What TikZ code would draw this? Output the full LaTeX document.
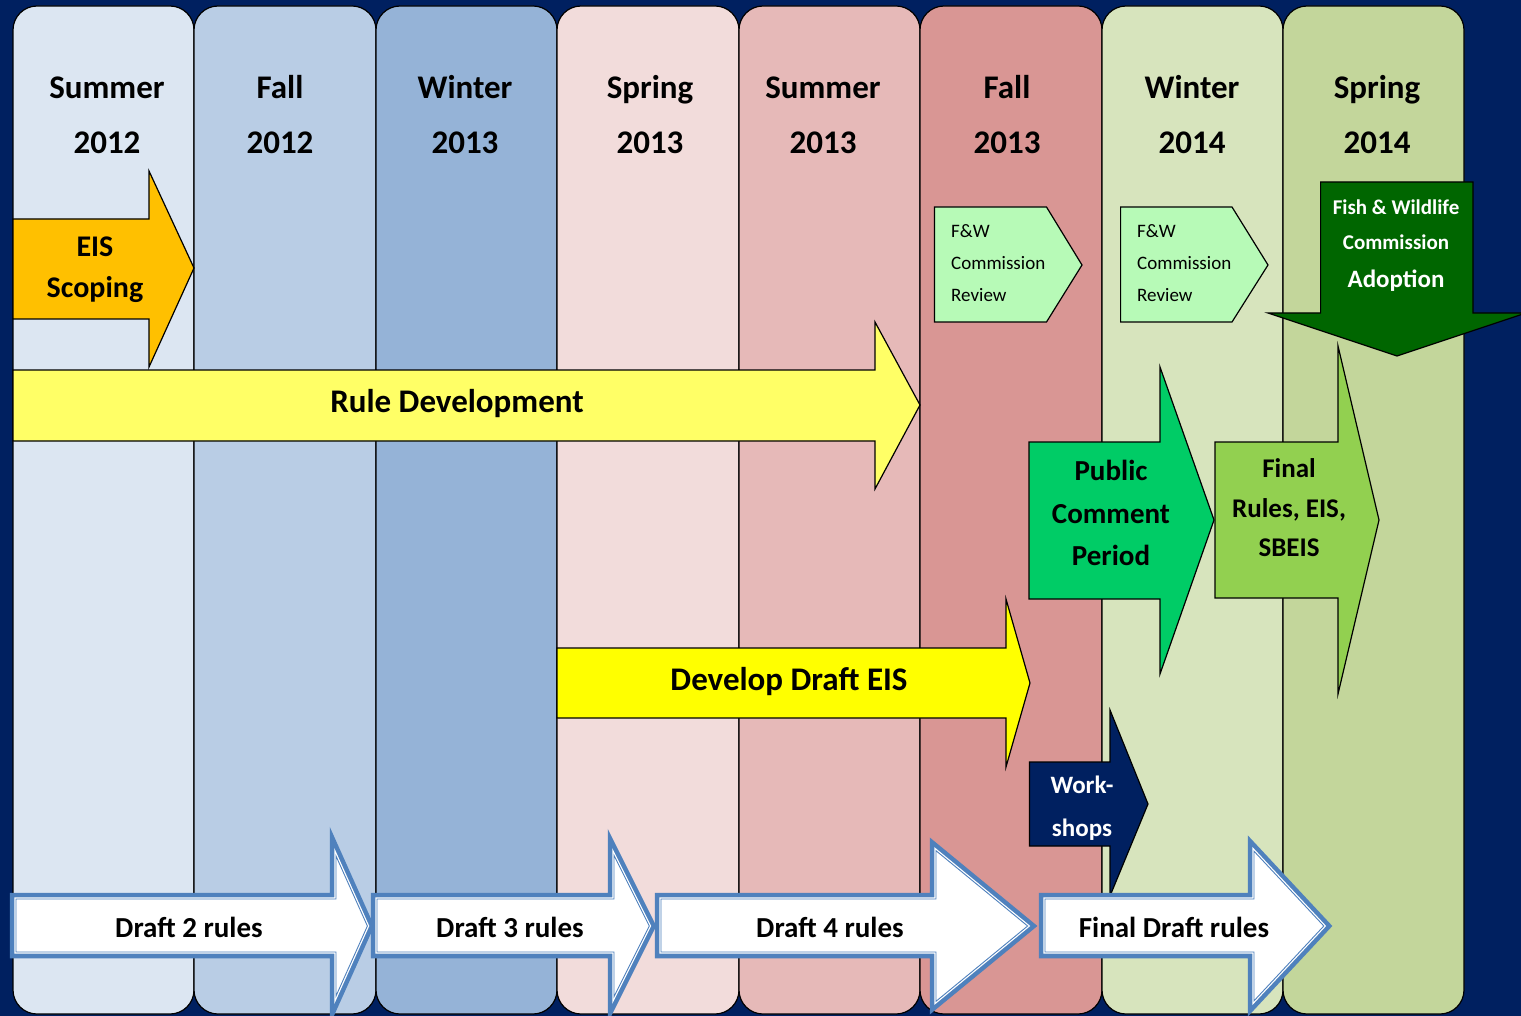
\documentclass[tikz,border=0pt]{standalone}
\usepackage{fontspec}
\setmainfont{Carlito}
\definecolor{bgnavy}{HTML}{002060}
\definecolor{cA}{HTML}{DCE6F2}
\definecolor{cB}{HTML}{B9CDE5}
\definecolor{cC}{HTML}{95B3D7}
\definecolor{cD}{HTML}{F2DCDB}
\definecolor{cE}{HTML}{E6B9B8}
\definecolor{cF}{HTML}{D99694}
\definecolor{cG}{HTML}{D7E4BD}
\definecolor{cH}{HTML}{C3D69B}
\definecolor{orangeA}{HTML}{FFC000}
\definecolor{yellowA}{HTML}{FFFF66}
\definecolor{yellowB}{HTML}{FFFF00}
\definecolor{reviewgreen}{RGB}{183,250,183}
\definecolor{pubgreen}{HTML}{00CC66}
\definecolor{finalgreen}{HTML}{92D050}
\definecolor{darkgreenA}{HTML}{006600}
\definecolor{arrblue}{HTML}{4F81BD}
\newcommand\blarrow[7]{%
  \draw[arrblue, line width=12.5pt, line join=miter] (#1,#2) -- (#4,#2) -- (#4,#5) -- (#7,926) -- (#4,#6) -- (#4,#3) -- (#1,#3) -- cycle;
  \draw[white, line width=3.4pt, line join=miter] (#1,#2) -- (#4,#2) -- (#4,#5) -- (#7,926) -- (#4,#6) -- (#4,#3) -- (#1,#3) -- cycle;
  \fill[white] (#1,#2) -- (#4,#2) -- (#4,#5) -- (#7,926) -- (#4,#6) -- (#4,#3) -- (#1,#3) -- cycle;
  \draw[arrblue, line width=0.9pt, line join=miter] (#1,#2) -- (#4,#2) -- (#4,#5) -- (#7,926) -- (#4,#6) -- (#4,#3) -- (#1,#3) -- cycle;
}
\begin{document}
\begin{tikzpicture}[x=1pt,y=-1pt,
  col/.style={draw=black, line width=1.2pt, rounded corners=24pt},
  shp/.style={draw=black, line width=1.2pt, line join=miter},
  season/.style={font=\bfseries\fontsize{33}{40}\selectfont, anchor=base, inner sep=0pt},
  bigtxt/.style={font=\bfseries\fontsize{33}{40}\selectfont, anchor=base, inner sep=0pt},
  midtxt/.style={font=\bfseries\fontsize{29}{36}\selectfont, anchor=base, inner sep=0pt},
  revtxt/.style={font=\fontsize{19}{24}\selectfont, anchor=base west, inner sep=0pt},
  whtxt/.style={font=\bfseries\fontsize{21}{26}\selectfont, anchor=base, inner sep=0pt, text=white}]
\useasboundingbox (0,0) rectangle (1521,1016);
\fill[bgnavy] (0,0) rectangle (1521,1016);
\clip (0,0) rectangle (1521,1016);

% season columns
\draw[col, fill=cA] (13,6) rectangle (194,1014);
\draw[col, fill=cB] (194,6) rectangle (376,1014);
\draw[col, fill=cC] (376,6) rectangle (557,1014);
\draw[col, fill=cD] (557,6) rectangle (739,1014);
\draw[col, fill=cE] (739,6) rectangle (920,1014);
\draw[col, fill=cF] (920,6) rectangle (1102,1014);
\draw[col, fill=cG] (1102,6) rectangle (1283,1014);
\draw[col, fill=cH] (1283,6) rectangle (1464,1014);

\node[season] (s1a) at (107,99) {Summer};
\node[season] (s1b) at (107,154) {2012};
\node[season] (s2a) at (280,99) {Fall};
\node[season] (s2b) at (280,154) {2012};
\node[season] (s3a) at (465,99) {Winter};
\node[season] (s3b) at (465,154) {2013};
\node[season] (s4a) at (650,99) {Spring};
\node[season] (s4b) at (650,154) {2013};
\node[season] (s5a) at (823,99) {Summer};
\node[season] (s5b) at (823,154) {2013};
\node[season] (s6a) at (1007,99) {Fall};
\node[season] (s6b) at (1007,154) {2013};
\node[season] (s7a) at (1192,99) {Winter};
\node[season] (s7b) at (1192,154) {2014};
\node[season] (s8a) at (1377,99) {Spring};
\node[season] (s8b) at (1377,154) {2014};

% EIS Scoping
\draw[shp, fill=orangeA] (13,219) -- (149,219) -- (149,171) -- (194,268) -- (149,367) -- (149,319) -- (13,319) -- cycle;
\node[font=\bfseries\fontsize{30}{36}\selectfont, anchor=base, inner sep=0pt] (eis1) at (95,257) {EIS};
\node[font=\bfseries\fontsize{30}{36}\selectfont, anchor=base, inner sep=0pt] (eis2) at (95,298) {Scoping};

% Rule Development
\draw[shp, fill=yellowA] (13,370) -- (875,370) -- (875,322) -- (920,405) -- (875,489) -- (875,441) -- (13,441) -- cycle;
\node[bigtxt] (ruledev) at (457,412) {Rule Development};

% Develop Draft EIS
\draw[shp, fill=yellowB] (557,648) -- (1006,648) -- (1006,599) -- (1030,683) -- (1006,767) -- (1006,718) -- (557,718) -- cycle;
\node[bigtxt] (drafteis) at (789,690) {Develop Draft EIS};

% F&W Commission Review boxes
\draw[shp, fill=reviewgreen] (934.5,207) -- (1046.5,207) -- (1082,265) -- (1046.5,322) -- (934.5,322) -- cycle;
\node[revtxt] (r1a) at (951,238) {F\&W};
\node[revtxt] (r1b) at (951,270) {Commission};
\node[revtxt] (r1c) at (951,302) {Review};
\draw[shp, fill=reviewgreen] (1120.6,207) -- (1232,207) -- (1268,265) -- (1232,322) -- (1120.6,322) -- cycle;
\node[revtxt] (r2a) at (1137,238) {F\&W};
\node[revtxt] (r2b) at (1137,270) {Commission};
\node[revtxt] (r2c) at (1137,302) {Review};

% Public Comment Period
\draw[shp, fill=pubgreen] (1029,442) -- (1160,442) -- (1160,367) -- (1214,520) -- (1160,674) -- (1160,599) -- (1029,599) -- cycle;
\node[midtxt] (pc1) at (1111,480) {Public};
\node[midtxt] (pc2) at (1111,523) {Comment};
\node[midtxt] (pc3) at (1111,565) {Period};

% Final Rules, EIS, SBEIS
\draw[shp, fill=finalgreen] (1215,442) -- (1338,442) -- (1338,346) -- (1379,520) -- (1338,694) -- (1338,598) -- (1215,598) -- cycle;
\node[font=\bfseries\fontsize{27}{33}\selectfont, anchor=base, inner sep=0pt] (fr1) at (1289,477) {Final};
\node[font=\bfseries\fontsize{27}{33}\selectfont, anchor=base, inner sep=0pt] (fr2) at (1289,517) {Rules, EIS,};
\node[font=\bfseries\fontsize{27}{33}\selectfont, anchor=base, inner sep=0pt] (fr3) at (1289,556) {SBEIS};

% Fish & Wildlife Commission Adoption
\draw[shp, fill=darkgreenA] (1320.6,182) -- (1473,182) -- (1473,313) -- (1526,313) -- (1397,356) -- (1268,313) -- (1320.6,313) -- cycle;
\node[whtxt] (ad1) at (1396,215) {Fish \& Wildlife};
\node[whtxt] (ad2) at (1396,250) {Commission};
\node[whtxt, font=\bfseries\fontsize{25}{30}\selectfont] (ad3) at (1396,288) {Adoption};

% Workshops
\draw[shp, fill=bgnavy] (1029.5,762) -- (1110,762) -- (1110,710) -- (1148,804) -- (1110,896) -- (1110,846) -- (1029.5,846) -- cycle;
\node[whtxt, font=\bfseries\fontsize{25}{30}\selectfont] (ws1) at (1082,793) {Work-};
\node[whtxt, font=\bfseries\fontsize{25}{30}\selectfont] (ws2) at (1082,836) {shops};

% Draft rule arrows
\blarrow{16}{899}{952}{336}{856}{996}{367.4}
\blarrow{377}{899}{952}{614}{855.4}{996.6}{649.3}
\blarrow{661}{899}{952}{936}{850.7}{1001.3}{1027.6}
\blarrow{1045}{899}{952}{1254}{851.2}{1000.8}{1323.8}
\node[midtxt] (d2) at (189,937) {Draft 2 rules};
\node[midtxt] (d3) at (510,937) {Draft 3 rules};
\node[midtxt] (d4) at (830,937) {Draft 4 rules};
\node[midtxt] (dfin) at (1174,937) {Final Draft rules};
\end{tikzpicture}
\end{document}
